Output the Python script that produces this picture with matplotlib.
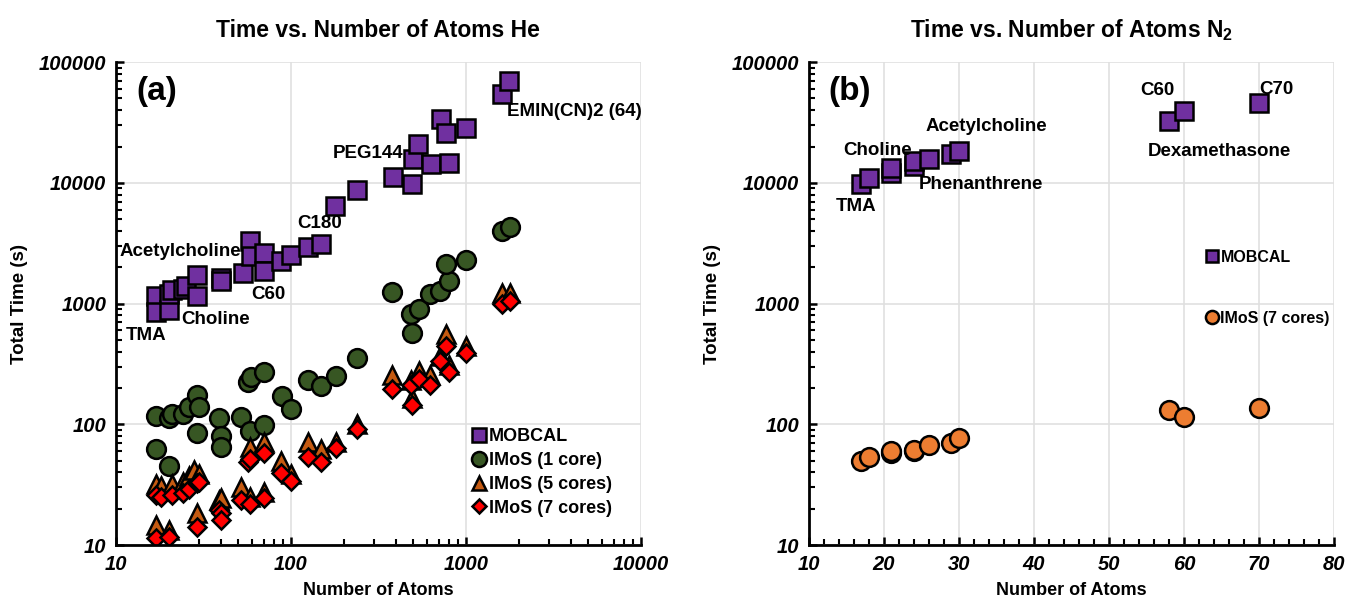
import matplotlib.pyplot as plt
import matplotlib.ticker as mticker

plt.rcParams['font.family'] = ['Liberation Sans', 'DejaVu Sans']
plt.rcParams['mathtext.fontset'] = 'custom'
plt.rcParams['mathtext.rm'] = 'Liberation Sans'
plt.rcParams['mathtext.bf'] = 'Liberation Sans:bold'

# Panel (a): He
mobcal_he_atoms = [17, 17, 20, 20, 21, 24, 25, 29, 29, 40, 40, 53, 58, 59, 70, 70, 88, 100,
                   125, 148, 178, 239, 382, 494, 499, 536, 632, 720, 766, 800, 1000, 1600, 1775]
mobcal_he_time = [1150, 855, 890, 1190, 1300, 1310, 1410, 1720, 1150, 1630, 1540, 1800, 3270, 2460,
                  2620, 1860, 2250, 2520, 2950, 3120, 6380, 8650, 11200, 9840, 15700, 20900, 14400,
                  33600, 26000, 14700, 28300, 54000, 70000]

imos1_he_atoms = [17, 17, 20, 20, 21, 24, 26, 29, 30, 29, 39, 40, 40, 52, 57, 59, 70, 58, 70,
                  89, 100, 125, 149, 180, 238, 380, 488, 537, 492, 621, 715, 801, 767, 1000, 1600, 1780]
imos1_he_time = [117, 62, 45, 112, 122, 122, 139, 176, 139, 85, 113, 80, 65, 115, 224, 245, 270,
                 88, 98, 170, 135, 231, 207, 251, 354, 1256, 817, 910, 569, 1194, 1271, 1537, 2109,
                 2275, 4010, 4275]

imos5_he_atoms = [17, 18, 21, 24, 26, 28, 30, 17, 20, 29, 39, 40, 52, 58, 70, 58, 70, 88, 100,
                  125, 149, 180, 239, 379, 494, 488, 537, 621, 715, 767, 801, 1000, 1600, 1782]
imos5_he_time = [32, 31, 32, 33, 37, 42, 39, 14.6, 13.3, 18.6, 23.5, 24.3, 30, 25, 27.5, 65, 71.5,
                 50, 39, 71.5, 63, 71, 100, 254, 165, 235, 274, 254, 371, 558, 312, 448, 1216, 1230]

imos7_he_atoms = [17, 18, 21, 24, 26, 29, 30, 17, 20, 29, 39, 40, 40, 52, 58, 70, 57, 58, 70, 88,
                  100, 125, 149, 180, 239, 379, 494, 488, 537, 621, 715, 767, 801, 1000, 1600, 1782]
imos7_he_time = [26, 25, 26, 27, 29.4, 32.4, 33, 11.4, 11.6, 14.2, 19.5, 18.3, 16.1, 23.5, 21.8,
                 24.3, 49, 52, 58.3, 39.6, 33.8, 53.7, 49, 64, 91, 197, 144, 210, 238, 210, 333,
                 448, 270, 387, 1000, 1052]

he_labels = ['TMA', 'Choline', 'C60', 'Acetylcholine', 'C180', 'PEG144', 'EMIN(CN)2 (64)']
he_label_x = [14.9, 37, 74, 23.3, 146, 275, 4190]
he_label_y = [548, 740, 1180, 2690, 4610, 17470, 39100]

# Panel (b): N2
n2_atoms = [17, 18, 21, 21, 24, 24, 26, 29, 30, 58, 60, 70]
mobcal_n2_time = [9700, 11000, 12100, 13300, 13900, 15100, 15800, 17400, 18500, 32300, 39500, 45800]
imos7_n2_time = [49.9, 54, 57.8, 60.5, 60, 61.5, 67.6, 69.8, 76.7, 131, 114, 136]

n2_labels = ['TMA', 'Choline', 'Acetylcholine', 'Phenanthrene', 'C60', 'C70', 'Dexamethasone']
n2_label_x = [16.3, 19.1, 33.7, 33.0, 56.5, 72.3, 64.8]
n2_label_y = [6360, 18500, 29100, 9750, 58200, 59300, 18200]

purple = '#7030A0'
green = '#375623'
brown = '#C55A11'
red = '#FF0000'
orange = '#ED7D31'

fig = plt.figure(figsize=(13.49, 6.09), dpi=100)
ax_a = fig.add_axes([0.086, 0.105, 0.389, 0.793])
ax_b = fig.add_axes([0.5997, 0.105, 0.389, 0.793])

mk = dict(linestyle='none', markeredgecolor='black', markeredgewidth=1.8)


def style_axes(ax):
    ax.set_yscale('log')
    ax.set_ylim(10, 100000)
    ax.set_yticks([10, 100, 1000, 10000, 100000])
    ax.yaxis.set_major_formatter(mticker.FuncFormatter(lambda v, p: f'{int(round(v))}'))
    ax.spines['top'].set_visible(False)
    ax.spines['right'].set_visible(False)
    ax.spines['left'].set_linewidth(2)
    ax.spines['bottom'].set_linewidth(2)
    ax.grid(True, which='major', color='#E0E0E0', linewidth=1.2)
    ax.set_axisbelow(True)
    ax.tick_params(which='major', direction='in', length=6, width=1.8, pad=7)
    ax.tick_params(which='minor', direction='in', length=4, width=1.5)
    for lab in ax.get_xticklabels() + ax.get_yticklabels():
        lab.set_fontsize(14.5)
        lab.set_fontweight('bold')
        lab.set_fontstyle('italic')
    ax.set_ylabel('Total Time (s)', fontsize=13.5, fontweight='bold', labelpad=8)
    ax.set_xlabel('Number of Atoms', fontsize=13, fontweight='bold', labelpad=6)


# ---- panel (a)
ax_a.set_xscale('log')
ax_a.set_xlim(10, 10000)
ax_a.set_xticks([10, 100, 1000, 10000])
ax_a.xaxis.set_major_formatter(mticker.FuncFormatter(lambda v, p: f'{int(round(v))}'))
ax_a.plot(mobcal_he_atoms, mobcal_he_time, marker='s', markersize=13, markerfacecolor=purple,
          label='MOBCAL', **mk)
ax_a.plot(imos1_he_atoms, imos1_he_time, marker='o', markersize=13.5, markerfacecolor=green,
          label='IMoS (1 core)', **mk)
ax_a.plot(imos5_he_atoms, imos5_he_time, marker='^', markersize=12.5, markerfacecolor=brown,
          label='IMoS (5 cores)', **mk)
ax_a.plot(imos7_he_atoms, imos7_he_time, marker='D', markersize=9.5, markerfacecolor=red,
          label='IMoS (7 cores)', **mk)
style_axes(ax_a)
ax_a.set_title('Time vs. Number of Atoms He', fontsize=16.5, fontweight='bold', pad=18)
for t, x, y in zip(he_labels, he_label_x, he_label_y):
    ax_a.text(x, y, t, fontsize=13.5, fontweight='bold', ha='center', va='center')
ax_a.text(0.078, 0.94, '(a)', transform=ax_a.transAxes, fontsize=24, fontweight='bold',
          ha='center', va='center')
ax_a.legend(loc='upper left', bbox_to_anchor=(0.66, 0.257), frameon=False,
            prop={'weight': 'bold', 'size': 13}, handletextpad=0.05, handlelength=1.0,
            labelspacing=0.38, markerscale=0.8, borderaxespad=0)

# ---- panel (b)
ax_b.set_xlim(10, 80)
ax_b.set_xticks(range(10, 81, 10))
ax_b.xaxis.set_minor_locator(mticker.MultipleLocator(2))
ax_b.plot(n2_atoms, mobcal_n2_time, marker='s', markersize=13, markerfacecolor=purple,
          label='MOBCAL', **mk)
ax_b.plot(n2_atoms, imos7_n2_time, marker='o', markersize=13.5, markerfacecolor=orange,
          label='IMoS (7 cores)', **mk)
style_axes(ax_b)
ax_b.set_title('Time vs. Number of Atoms N$_{\\mathbf{2}}$', fontsize=16.5, fontweight='bold', pad=18)
for t, x, y in zip(n2_labels, n2_label_x, n2_label_y):
    ax_b.text(x, y, t, fontsize=13.5, fontweight='bold', ha='center', va='center')
ax_b.text(0.078, 0.94, '(b)', transform=ax_b.transAxes, fontsize=24, fontweight='bold',
          ha='center', va='center')
ax_b.legend(loc='upper left', bbox_to_anchor=(0.74, 0.625), frameon=False,
            prop={'weight': 'bold', 'size': 11.5}, handletextpad=0.05, handlelength=1.0,
            labelspacing=2.9, markerscale=0.7, borderaxespad=0)

fig.savefig('out.png', dpi=100)
